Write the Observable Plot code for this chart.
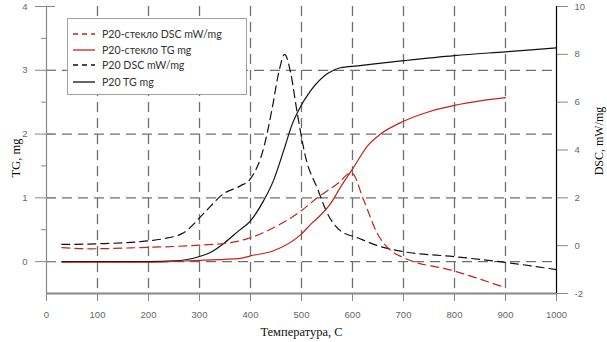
<!DOCTYPE html>
<html>
<head>
<meta charset="utf-8">
<script src="https://cdn.jsdelivr.net/npm/d3@7"></script>
<script src="https://cdn.jsdelivr.net/npm/@observablehq/plot@0.6"></script>
<style>
  html, body { margin: 0; padding: 0; background: #fff; }
  #wrap { position: relative; width: 607px; height: 342px; overflow: hidden; }
  #legend { position: absolute; left: 67px; top: 18px; width: 178px; height: 75px;
    border: 1px solid #a0a0a0; background: #fff; font-family: Lato, "Liberation Sans", sans-serif;
    font-size: 10.6px; color: #333; }
  .row { position: absolute; left: 0; height: 16px; display: flex; align-items: center; white-space: nowrap; }
  .row svg { margin-left: 5px; margin-right: 7px; }
</style>
</head>
<body>
<div id="wrap"></div>
<script>
// ---- data ----
const seriesNames = ["P20-стекло DSC mW/mg", "P20-стекло TG mg", "P20 DSC mW/mg", "P20 TG mg"];

const xTicks = [0, 100, 200, 300, 400, 500, 600, 700, 800, 900, 1000];
const tgTicks = [0, 1, 2, 3, 4];
const tgMinorTicks = [-0.5, 0.5, 1.5, 2.5, 3.5];
const dscTicks = [-2, 0, 2, 4, 6, 8, 10];

// P20 TG mg (left axis)
const p20TG_T = [30, 100, 200, 250, 300, 325, 350, 375, 400, 426, 445, 465, 482, 494, 518, 551, 576, 610, 700, 800, 900, 1000];
const p20TG   = [0, 0, 0, 0.01, 0.08, 0.16, 0.3, 0.47, 0.64, 0.96, 1.27, 1.74, 2.16, 2.37, 2.68, 2.95, 3.04, 3.07, 3.15, 3.23, 3.29, 3.35];

// P20 DSC mW/mg (right axis)
const p20DSC_T = [30, 100, 184, 229, 269, 308, 347, 380, 400, 426, 443, 455, 467, 478, 492, 508, 531, 551, 576, 610, 649, 700, 800, 900, 1000];
const p20DSC   = [0.05, 0.08, 0.17, 0.29, 0.54, 1.34, 2.17, 2.5, 2.8, 4.1, 5.8, 7.2, 8.0, 7.3, 5.5, 3.7, 2.4, 1.34, 0.63, 0.33, 0.0, -0.25, -0.46, -0.7, -1.0];

// P20-стекло TG mg (left axis)
const glassTG_T = [30, 200, 300, 380, 400, 445, 498, 520, 540, 557, 576, 600, 630, 655, 700, 750, 800, 850, 900];
const glassTG   = [-0.01, -0.01, 0.02, 0.05, 0.09, 0.17, 0.42, 0.6, 0.75, 0.91, 1.16, 1.45, 1.82, 2.0, 2.2, 2.35, 2.45, 2.52, 2.57];

// P20-стекло DSC mW/mg (right axis)
const glassDSC_T = [30, 86, 184, 282, 361, 400, 445, 492, 531, 571, 598, 622, 649, 675, 700, 798, 900];
const glassDSC   = [-0.08, -0.13, -0.08, 0, 0.13, 0.33, 0.75, 1.34, 2.0, 2.6, 3.05, 1.9, 0.5, -0.2, -0.5, -1.05, -1.76];

// ---- build ----
const tgDomain = [-0.5, 4];
const dscDomain = [-2, 10];
const toTG = d => (d - dscDomain[0]) * (tgDomain[1] - tgDomain[0]) / (dscDomain[1] - dscDomain[0]) + tgDomain[0];
const fromTG = t => String(Math.round((t - tgDomain[0]) * (dscDomain[1] - dscDomain[0]) / (tgDomain[1] - tgDomain[0]) + dscDomain[0]));

const zip = (xs, ys) => xs.map((x, i) => ({T: x, v: ys[i]}));

const RED = "#c4231c";
const styles = [
  {stroke: RED, dash: "8,5", table: zip(glassDSC_T, glassDSC), dsc: true, legendDash: "5,4"},
  {stroke: RED, dash: null, table: zip(glassTG_T, glassTG), dsc: false, legendDash: null},
  {stroke: "#111", dash: "8,5", table: zip(p20DSC_T, p20DSC), dsc: true, legendDash: "5,4"},
  {stroke: "#111", dash: null, table: zip(p20TG_T, p20TG), dsc: false, legendDash: null}
];

const gridStyle = {stroke: "#707070", strokeOpacity: 1, strokeWidth: 1.3, strokeDasharray: "10,6"};
const axisGray = "#888";
const tickText = {fontSize: 9.5, fill: "#666", fontFamily: "'Liberation Sans', Arial, sans-serif"};
const serif = {fontFamily: "'Liberation Serif', 'Times New Roman', serif", fontSize: 12.5, fill: "#111"};

const lineMarks = [2, 3, 0, 1].map(i => {
  const s = styles[i];
  return Plot.line(s.table, {
    x: "T",
    y: s.dsc ? d => toTG(d.v) : "v",
    stroke: s.stroke,
    strokeWidth: 1.2,
    strokeDasharray: s.dash,
    curve: "monotone-x"
  });
});

const chart = Plot.plot({
  width: 607,
  height: 342,
  marginLeft: 46,
  marginRight: 51,
  marginTop: 6,
  marginBottom: 49,
  x: {domain: [0, 1000]},
  y: {domain: tgDomain},
  style: {background: "white", fontFamily: "'Liberation Sans', Arial, sans-serif", overflow: "visible"},
  marks: [
    Plot.gridX(xTicks.filter(t => t > 0 && t < 1000), gridStyle),
    Plot.gridY(tgTicks.filter(t => t < 4), gridStyle),
    Plot.ruleX([0], {stroke: axisGray, strokeWidth: 1.2}),
    Plot.ruleY([tgDomain[0]], {stroke: axisGray, strokeWidth: 2}),
    Plot.axisX(xTicks, {anchor: "bottom", tickSize: 8, tickPadding: 10, label: null, stroke: axisGray, tickFormat: d => String(d), ...tickText}),
    Plot.axisY(tgTicks, {anchor: "left", tickSize: 11, tickPadding: 8, label: null, stroke: axisGray, tickFormat: d => String(d), ...tickText}),
    Plot.axisY(tgMinorTicks.filter(t => t > tgDomain[0]), {anchor: "left", tickSize: 5, tickFormat: () => "", label: null, stroke: axisGray}),
    Plot.axisY(tgTicks, {anchor: "right", frameAnchor: "left", tickSize: 8, tickFormat: () => "", label: null, stroke: axisGray}),
    Plot.axisY(dscTicks.map(toTG), {anchor: "right", tickSize: 11, tickPadding: 7, label: null, stroke: axisGray, tickFormat: fromTG, ...tickText}),
    ...lineMarks,
    Plot.ruleX([1000], {stroke: "#000", strokeWidth: 1.2}),
    Plot.text(["TG, mg"], {text: d => d, frameAnchor: "left", dx: -31, dy: 8, rotate: -90, textAnchor: "middle", lineAnchor: "middle", ...serif}),
    Plot.text(["DSC, mW/mg"], {text: d => d, frameAnchor: "right", dx: 43, dy: -9, rotate: -90, textAnchor: "middle", lineAnchor: "middle", ...serif, fontSize: 12}),
    Plot.text(["Температура, С"], {text: d => d, frameAnchor: "bottom", dy: 38, textAnchor: "middle", lineAnchor: "middle", ...serif})
  ]
});

const wrap = document.getElementById("wrap");
wrap.appendChild(chart);

// legend (HTML overlay)
const legend = document.createElement("div");
legend.id = "legend";
const rowTops = [7, 23, 38, 55];
seriesNames.forEach((name, i) => {
  const s = styles[i];
  const row = document.createElement("div");
  row.className = "row";
  row.style.top = rowTops[i] + "px";
  row.innerHTML = `<svg width="22" height="6"><line x1="0" y1="3" x2="22" y2="3" stroke="${s.stroke}" stroke-width="1.3" ${s.legendDash ? `stroke-dasharray="${s.legendDash}"` : ""}/></svg><span>${name}</span>`;
  legend.appendChild(row);
});
wrap.appendChild(legend);
</script>
</body>
</html>
